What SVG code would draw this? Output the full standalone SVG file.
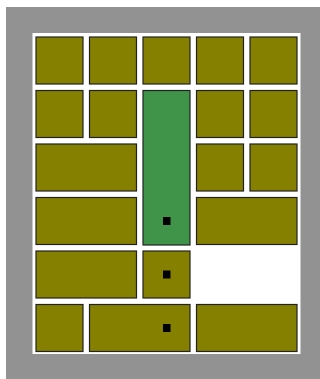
<svg xmlns="http://www.w3.org/2000/svg" width="320" height="379" viewBox="0 0 320 379">
<style>
.b{fill:#858000;stroke:#222;stroke-width:1.2}
.g{fill:#3f944a;stroke:#222;stroke-width:1.2}
.d{fill:#000}
</style>
<rect x="0" y="0" width="320" height="379" fill="#fff"/>
<rect x="6" y="7" width="314" height="372" fill="#929292"/>
<rect x="32.5" y="33" width="268" height="321" fill="#fff"/>
<g id="r1c1"><rect class="b" x="36" y="37" width="47" height="47"/></g>
<g id="r1c2"><rect class="b" x="89.5" y="37" width="47" height="47"/></g>
<g id="r1c3"><rect class="b" x="143" y="37" width="47" height="47"/></g>
<g id="r1c4"><rect class="b" x="196.5" y="37" width="47" height="47"/></g>
<g id="r1c5"><rect class="b" x="250" y="37" width="47" height="47"/></g>
<g id="r2c1"><rect class="b" x="36" y="90.5" width="47" height="47"/></g>
<g id="r2c2"><rect class="b" x="89.5" y="90.5" width="47" height="47"/></g>
<g id="green"><rect class="g" x="143" y="90.5" width="47" height="154.5"/><rect class="d" x="163" y="217" width="7.5" height="8"/></g>
<g id="r2c4"><rect class="b" x="196.5" y="90.5" width="47" height="47"/></g>
<g id="r2c5"><rect class="b" x="250" y="90.5" width="47" height="47"/></g>
<g id="r3c12"><rect class="b" x="36" y="144" width="100.5" height="47"/></g>
<g id="r3c4"><rect class="b" x="196.5" y="144" width="47" height="47"/></g>
<g id="r3c5"><rect class="b" x="250" y="144" width="47" height="47"/></g>
<g id="r4c12"><rect class="b" x="36" y="197.5" width="100.5" height="47"/></g>
<g id="r4c45"><rect class="b" x="196.5" y="197.5" width="100.5" height="47"/></g>
<g id="r5c12"><rect class="b" x="36" y="251" width="100.5" height="47"/></g>
<g id="r5c3"><rect class="b" x="143" y="251" width="47" height="47"/><rect class="d" x="163" y="270.5" width="7.5" height="8"/></g>
<g id="r6c1"><rect class="b" x="36" y="304.5" width="47" height="47"/></g>
<g id="r6c23"><rect class="b" x="89.5" y="304.5" width="100.5" height="47"/><rect class="d" x="163" y="324" width="7.5" height="8"/></g>
<g id="r6c45"><rect class="b" x="196.5" y="304.5" width="100.5" height="47"/></g>
<g id="connectors"></g>
</svg>
